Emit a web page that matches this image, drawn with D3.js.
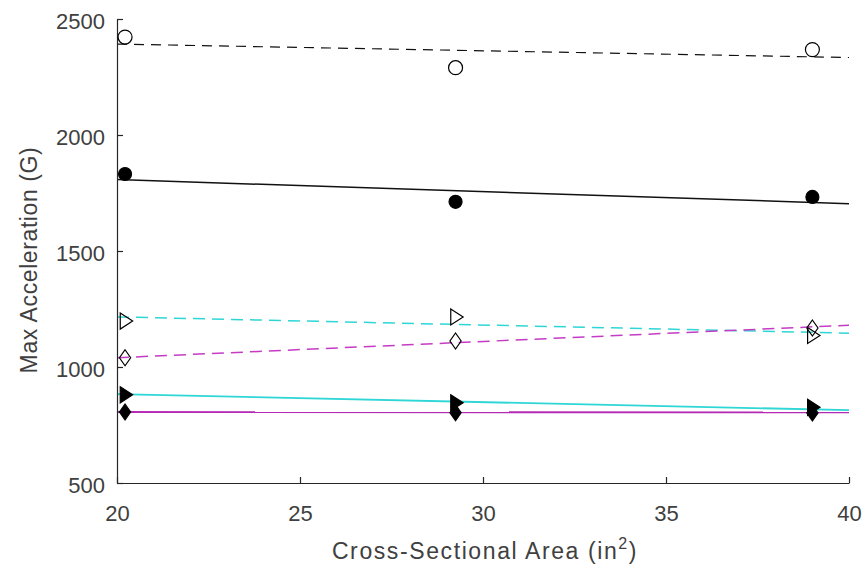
<!DOCTYPE html>
<html>
<head>
<meta charset="utf-8">
<script src="https://cdn.jsdelivr.net/npm/d3@7"></script>
<style>
	body { margin: 0; background: #fff; }
	svg text { font-family: "Liberation Sans", Arial, sans-serif; fill: #404040; }
</style>
</head>
<body>
<svg id="chart" width="864" height="571"></svg>
<script>
"use strict";

//measured sample areas (in^2)
const areas = [20.22, 29.25, 39.0];

//max acceleration per series (G)
const openCircle   = [2422, 2290, 2368];
const filledCircle = [1832, 1712, 1733];
const openTri      = [1198, 1216, 1136];
const openDiamond  = [1040, 1112, 1168];
const filledTri    = [880, 846, 826];
const filledDiamond = [806, 803, 802];

//fit lines, value at x = 20 and x = 40
const fitX = [20, 40];
const fitOpenCircle   = [2392, 2334];
const fitFilledCircle = [1808, 1704];
const fitOpenTri      = [1216, 1146];
const fitOpenDiamond  = [1040, 1180];
const fitFilledTri    = [883, 814];
const fitFilledDiamond = [806, 804];

const xTicks = [20, 25, 30, 35, 40];
const yTicks = [500, 1000, 1500, 2000, 2500];

(function()
{
	let svg = d3.select("svg#chart");
	let x = d3.scaleLinear().domain([20, 40]).range([117, 849]);
	let y = d3.scaleLinear().domain([500, 2500]).range([483, 19]);

	let line_func = d3.line()
		.x(function(d) { return x(d[0]); })
		.y(function(d) { return y(d[1]); });

	//fit lines, drawn first so markers sit on top
	let fits = [
		[fitOpenCircle, "#111", "10,7", 1.2],
		[fitFilledCircle, "#111", null, 1.5],
		[fitOpenTri, "#2fd6d6", "12,7", 1.5],
		[fitOpenDiamond, "#c43cc4", "12,7", 1.5],
		[fitFilledTri, "#2fd6d6", null, 1.8],
		[fitFilledDiamond, "#b52ab5", null, 1.8]
	];
	let lines = svg.append("g").attr("fill", "none");
	for (let f of fits)
	{
		let pts = fitX.map(function(v, i) { return [v, f[0][i]]; });
		lines.append("path")
			.attr("d", line_func(pts))
			.attr("stroke", f[1])
			.attr("stroke-width", f[3])
			.attr("stroke-dasharray", f[2]);
	}

	//axes, ticks point inwards
	let xAxis = d3.axisBottom(x).tickValues(xTicks).tickFormat(d3.format("d"))
		.tickSizeInner(-6).tickSizeOuter(0).tickPadding(22);
	let yAxis = d3.axisLeft(y).tickValues(yTicks).tickFormat(d3.format("d"))
		.tickSizeInner(-6).tickSizeOuter(0).tickPadding(12);
	let gx = svg.append("g").attr("transform", "translate(0,483)").call(xAxis);
	let gy = svg.append("g").attr("transform", "translate(117,0)").call(yAxis);
	for (let g of [gx, gy])
	{
		g.select(".domain").attr("stroke", "#262626").attr("stroke-width", 1.2);
		g.selectAll(".tick line").attr("stroke", "#262626").attr("stroke-width", 1.2);
		g.selectAll("text").attr("font-size", 22).attr("font-family", null).attr("fill", null);
	}
	gy.selectAll("text").attr("dy", "0.45em");

	//markers
	let sym = {
		diamond: function(s)
		{
			return "M0," + (-s) + "L" + (s * 0.7) + ",0L0," + s + "L" + (-s * 0.7) + ",0Z";
		},
		tri: function(s)
		{
			return "M" + (-s * 0.6) + "," + (-s) + "L" + (s * 0.95) + ",0L" + (-s * 0.6) + "," + s + "Z";
		}
	};
	let series = [
		[openCircle, "circle", false],
		[filledCircle, "circle", true],
		[openTri, "tri", false],
		[openDiamond, "diamond", false],
		[filledTri, "tri", true],
		[filledDiamond, "diamond", true]
	];
	let marks = svg.append("g");
	for (let s of series)
	{
		areas.forEach(function(a, i)
		{
			let m;
			if (s[1] === "circle")
			{
				m = marks.append("circle").attr("r", s[2] ? 6.5 : 7).attr("cx", 0).attr("cy", 0);
			}
			else
			{
				m = marks.append("path").attr("d", sym[s[1]](8));
			}
			m.attr("transform", "translate(" + x(a) + "," + y(s[0][i]) + ")")
				.attr("fill", s[2] ? "#000" : "none")
				.attr("stroke", "#000")
				.attr("stroke-width", 1.2);
		});
	}

	//axis labels
	svg.append("text")
		.attr("transform", "translate(37,260) rotate(-90)")
		.attr("text-anchor", "middle")
		.attr("font-size", 23)
		.attr("letter-spacing", 0.6)
		.text("Max Acceleration (G)");

	let xl = svg.append("text")
		.attr("x", 485)
		.attr("y", 559)
		.attr("text-anchor", "middle")
		.attr("font-size", 23)
		.attr("letter-spacing", 1.6);
	xl.append("tspan").text("Cross-Sectional Area (in");
	xl.append("tspan").attr("dy", -10).attr("font-size", 16).text("2");
	xl.append("tspan").attr("dy", 10).text(")");
})();
</script>
</body>
</html>
